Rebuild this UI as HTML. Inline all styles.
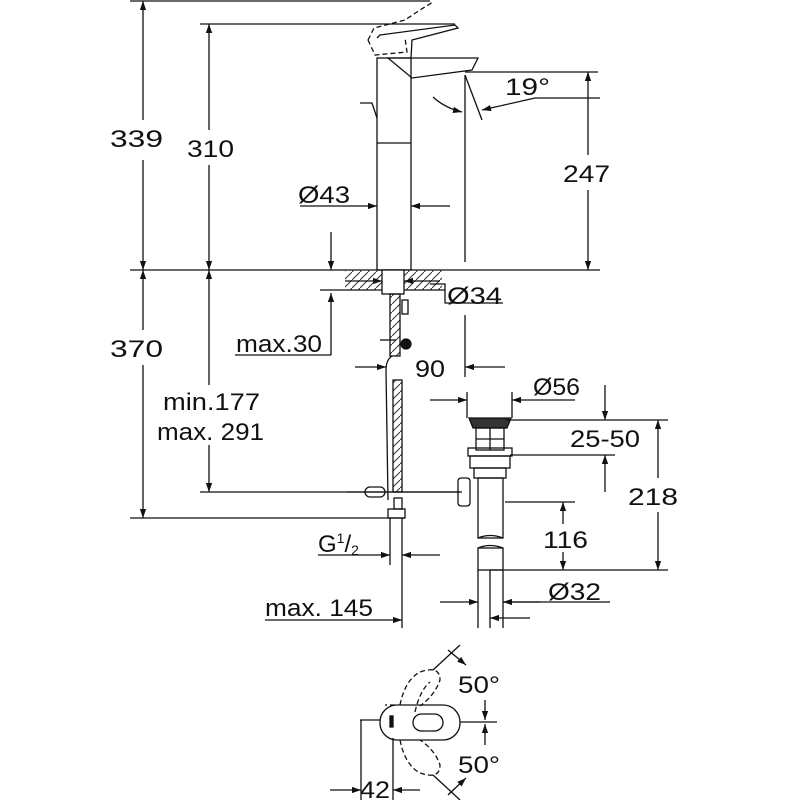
<!DOCTYPE html>
<html><head><meta charset="utf-8"><style>
html,body{margin:0;padding:0;background:#fff;}
svg{display:block;}
text{font-family:"Liberation Sans",sans-serif;fill:#111;}
</style></head><body>
<svg width="800" height="800" viewBox="0 0 800 800" xmlns="http://www.w3.org/2000/svg">
<defs>
<marker id="a" viewBox="0 0 10 10" refX="10" refY="5" markerWidth="9" markerHeight="9" orient="auto-start-reverse" markerUnits="userSpaceOnUse"><path d="M0,1.5 L10,5 L0,8.5 z" fill="#111"/></marker>
<pattern id="h" width="8" height="8" patternUnits="userSpaceOnUse"><path d="M0,8 L8,0" stroke="#333" stroke-width="1"/></pattern>
</defs>
<g stroke="#111" stroke-width="1.3" fill="none">
<line x1="130" y1="1" x2="430" y2="1"/>
<line x1="200" y1="24" x2="455" y2="24"/>
<line x1="130" y1="270" x2="600" y2="270"/>
<line x1="130" y1="518" x2="405" y2="518"/>
<line x1="200" y1="492" x2="460" y2="492"/>
<line x1="465" y1="72" x2="598" y2="72"/>
<line x1="143" y1="1" x2="143" y2="120" marker-start="url(#a)"/>
<line x1="143" y1="160" x2="143" y2="270" marker-end="url(#a)"/>
<line x1="143" y1="270" x2="143" y2="330" marker-start="url(#a)"/>
<line x1="143" y1="365" x2="143" y2="518" marker-end="url(#a)"/>
<line x1="209" y1="24" x2="209" y2="130" marker-start="url(#a)"/>
<line x1="209" y1="165" x2="209" y2="270" marker-end="url(#a)"/>
<line x1="209" y1="270" x2="209" y2="385" marker-start="url(#a)"/>
<line x1="209" y1="445" x2="209" y2="492" marker-end="url(#a)"/>
<line x1="588" y1="72" x2="588" y2="155" marker-start="url(#a)"/>
<line x1="588" y1="190" x2="588" y2="270" marker-end="url(#a)"/>
<rect x="377" y="58" width="34" height="212"/>
<line x1="377" y1="143" x2="411" y2="143"/>
<path d="M388,58 L478,58 L472,70 L412,78 Z"/>
<path d="M377,38 L380,35 L455,25 L458,28 L412,40 L411,58"/>
<path d="M368,40 L374,28 L405,20 L420,10 L433,2" stroke-dasharray="5,3"/>
<path d="M368,40 L375,55 L407,52 L405,38" stroke-dasharray="5,3"/>
<path d="M360,103 L372,103 L377,118"/>
<line x1="465" y1="75" x2="465" y2="262"/>
<line x1="465" y1="75" x2="482" y2="120"/>
<path d="M433,97 Q445,108 462,112" marker-end="url(#a)"/>
<line x1="600" y1="98" x2="535" y2="98"/>
<line x1="535" y1="98" x2="482" y2="110" marker-end="url(#a)"/>
<line x1="300" y1="206" x2="377" y2="206" marker-end="url(#a)"/>
<line x1="450" y1="206" x2="411" y2="206" marker-end="url(#a)"/>
<line x1="331" y1="232" x2="331" y2="270" marker-end="url(#a)"/>
<rect x="345" y="270" width="97" height="20" fill="url(#h)" stroke="none"/>
<line x1="320" y1="290" x2="445" y2="290"/>
<rect x="382" y="270" width="22" height="24" fill="#fff"/>
<line x1="345" y1="281" x2="382" y2="281" marker-end="url(#a)"/>
<line x1="440" y1="281" x2="404" y2="281" marker-end="url(#a)"/>
<polyline points="430,284 445,284 445,303 503,303"/>
<line x1="331" y1="355" x2="331" y2="293" marker-end="url(#a)"/>
<line x1="235" y1="355" x2="331" y2="355"/>
<rect x="390" y="294" width="10" height="62" fill="url(#h)"/>
<rect x="393" y="380" width="9" height="112" fill="url(#h)"/>
<rect x="402" y="300" width="6" height="14"/>
<circle cx="406" cy="344" r="5" fill="#111"/>
<line x1="380" y1="340" x2="396" y2="340"/>
<path d="M388,500 L386,370 Q386,360 392,356"/>
<line x1="355" y1="367" x2="386" y2="367" marker-end="url(#a)"/>
<line x1="346" y1="492" x2="462" y2="492"/>
<rect x="365" y="487" width="20" height="10" rx="5"/>
<rect x="394" y="498" width="8" height="11"/>
<rect x="388" y="509" width="17" height="9"/>
<line x1="390" y1="518" x2="390" y2="565"/>
<line x1="402" y1="518" x2="402" y2="628"/>
<line x1="318" y1="555" x2="390" y2="555" marker-end="url(#a)"/>
<line x1="440" y1="555" x2="402" y2="555" marker-end="url(#a)"/>
<line x1="265" y1="620" x2="402" y2="620" marker-end="url(#a)"/>
<line x1="465" y1="315" x2="465" y2="377"/>
<line x1="505" y1="367" x2="465" y2="367" marker-end="url(#a)"/>
<line x1="467" y1="392" x2="467" y2="418"/>
<line x1="512" y1="392" x2="512" y2="418"/>
<line x1="430" y1="400" x2="467" y2="400" marker-end="url(#a)"/>
<line x1="575" y1="400" x2="512" y2="400" marker-end="url(#a)"/>
<path d="M469,418 L511,418 L507,428 L473,428 Z" fill="#333"/>
<rect x="476" y="428" width="28" height="22"/>
<line x1="490" y1="428" x2="490" y2="450"/><line x1="476" y1="439" x2="504" y2="439"/>
<rect x="468" y="448" width="44" height="8"/>
<rect x="470" y="456" width="40" height="12"/>
<rect x="474" y="468" width="32" height="10"/>
<rect x="458" y="478" width="12" height="28" rx="3"/>
<rect x="478" y="478" width="25" height="60"/>
<path d="M478,538 Q490,533 503,538"/>
<path d="M478,548 Q490,543 503,548"/>
<rect x="478" y="548" width="25" height="22"/>
<line x1="478" y1="570" x2="478" y2="628"/>
<line x1="490" y1="570" x2="490" y2="628"/>
<line x1="503" y1="570" x2="503" y2="628"/>
<line x1="505" y1="420" x2="668" y2="420"/>
<line x1="510" y1="455" x2="615" y2="455"/>
<line x1="505" y1="502" x2="575" y2="502"/>
<line x1="490" y1="570" x2="668" y2="570"/>
<line x1="605" y1="385" x2="605" y2="420" marker-end="url(#a)"/>
<line x1="605" y1="492" x2="605" y2="455" marker-end="url(#a)"/>
<line x1="658" y1="478" x2="658" y2="420" marker-end="url(#a)"/>
<line x1="658" y1="512" x2="658" y2="570" marker-end="url(#a)"/>
<line x1="563" y1="524" x2="563" y2="502" marker-end="url(#a)"/>
<line x1="563" y1="552" x2="563" y2="570" marker-end="url(#a)"/>
<line x1="440" y1="602" x2="478" y2="602" marker-end="url(#a)"/>
<line x1="540" y1="602" x2="503" y2="602" marker-end="url(#a)"/>
<line x1="503" y1="602" x2="610" y2="602"/>
<line x1="530" y1="618" x2="490" y2="618" marker-end="url(#a)"/>
<rect x="380" y="705" width="80" height="35" rx="17"/>
<rect x="413" y="714" width="30" height="17" rx="8.5"/>
<rect x="390" y="716" width="3" height="11" fill="#111"/>
<path d="M400,705 Q405,680 420,672 Q440,665 440,680 Q435,695 420,706" stroke-dasharray="5,3"/>
<path d="M395,705 L385,705 M415,712 Q420,690 430,682" stroke-dasharray="5,3"/>
<path d="M400,740 Q405,765 420,773 Q440,780 440,765 Q435,750 420,740" stroke-dasharray="5,3"/>
<line x1="433" y1="670" x2="460" y2="645"/>
<line x1="448" y1="650" x2="466" y2="665" marker-end="url(#a)"/>
<line x1="433" y1="775" x2="460" y2="800"/>
<line x1="448" y1="795" x2="466" y2="778" marker-end="url(#a)"/>
<line x1="460" y1="722" x2="497" y2="722"/>
<line x1="485" y1="700" x2="485" y2="720" marker-end="url(#a)"/>
<line x1="485" y1="745" x2="485" y2="724" marker-end="url(#a)"/>
<line x1="360" y1="720" x2="380" y2="720"/>
<line x1="361" y1="720" x2="361" y2="800"/>
<line x1="393" y1="738" x2="393" y2="800"/>
<line x1="330" y1="790" x2="361" y2="790" marker-end="url(#a)"/>
<line x1="420" y1="790" x2="393" y2="790" marker-end="url(#a)"/>
</g>
<g font-size="24">
<text x="110" y="147" textLength="53" lengthAdjust="spacingAndGlyphs">339</text>
<text x="187" y="157" textLength="47" lengthAdjust="spacingAndGlyphs">310</text>
<text x="505" y="95" textLength="45" lengthAdjust="spacingAndGlyphs">19°</text>
<text x="563" y="182" textLength="47" lengthAdjust="spacingAndGlyphs">247</text>
<text x="298" y="203" textLength="52" lengthAdjust="spacingAndGlyphs">Ø43</text>
<text x="447" y="304" textLength="55" lengthAdjust="spacingAndGlyphs">Ø34</text>
<text x="110" y="357" textLength="53" lengthAdjust="spacingAndGlyphs">370</text>
<text x="236" y="352" textLength="86" lengthAdjust="spacingAndGlyphs">max.30</text>
<text x="415" y="377" textLength="30" lengthAdjust="spacingAndGlyphs">90</text>
<text x="533" y="395" textLength="47" lengthAdjust="spacingAndGlyphs">Ø56</text>
<text x="163" y="410" textLength="97" lengthAdjust="spacingAndGlyphs">min.177</text>
<text x="157" y="440" textLength="107" lengthAdjust="spacingAndGlyphs">max. 291</text>
<text x="570" y="447" textLength="70" lengthAdjust="spacingAndGlyphs">25-50</text>
<text x="628" y="505" textLength="50" lengthAdjust="spacingAndGlyphs">218</text>
<text x="543" y="548" textLength="45" lengthAdjust="spacingAndGlyphs">116</text>
<text x="318" y="552">G<tspan font-size="14" dy="-9">1</tspan><tspan dy="9">/</tspan><tspan font-size="14" dy="3">2</tspan></text>
<text x="548" y="600" textLength="53" lengthAdjust="spacingAndGlyphs">Ø32</text>
<text x="265" y="616" textLength="108" lengthAdjust="spacingAndGlyphs">max. 145</text>
<text x="458" y="693" textLength="42" lengthAdjust="spacingAndGlyphs">50°</text>
<text x="458" y="773" textLength="42" lengthAdjust="spacingAndGlyphs">50°</text>
<text x="360" y="798" textLength="30" lengthAdjust="spacingAndGlyphs">42</text>
</g>
</svg>
</body></html>
